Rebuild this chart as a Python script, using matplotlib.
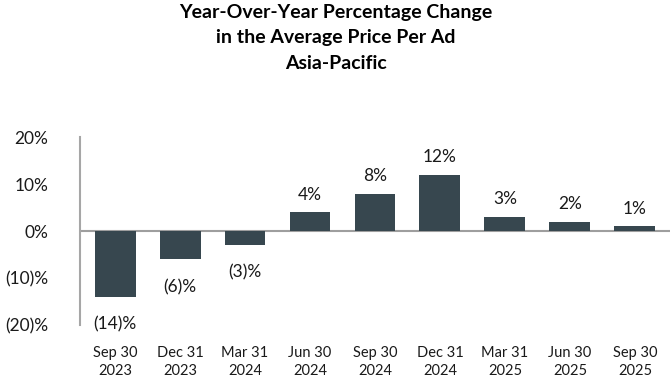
import matplotlib
matplotlib.use('Agg')
import matplotlib.pyplot as plt

# data
quarters = ['Sep 30\n2023', 'Dec 31\n2023', 'Mar 31\n2024', 'Jun 30\n2024', 'Sep 30\n2024',
            'Dec 31\n2024', 'Mar 31\n2025', 'Jun 30\n2025', 'Sep 30\n2025']
changes = [-14, -6, -3, 4, 8, 12, 3, 2, 1]
yticks = [-20, -10, 0, 10, 20]


def pct(v):
    # negatives shown in parentheses
    return '({})%'.format(abs(v)) if v < 0 else '{}%'.format(v)


plt.rcParams['font.family'] = ['Lato', 'DejaVu Sans']

fig = plt.figure(figsize=(6.72, 3.84), dpi=100)
ax = fig.add_axes([0.119, 0.153, 0.878, 0.49])

x = list(range(len(quarters)))
ax.bar(x, changes, width=0.63, color='#37474f', zorder=2)
ax.axhline(0, color='#9e9e9e', lw=1.5, zorder=1)

for xi, v in zip(x, changes):
    if v >= 0:
        ax.annotate(pct(v), (xi, v), xytext=(0, 7), textcoords='offset points',
                    ha='center', va='bottom', fontsize=12.5, color='#1a1a1a')
    else:
        ax.annotate(pct(v), (xi, v), xytext=(0, -14), textcoords='offset points',
                    ha='center', va='top', fontsize=12.5, color='#1a1a1a')

ax.set_xlim(-0.54, len(quarters) - 0.46)
ax.set_ylim(-20, 20)
ax.set_yticks(yticks)
ax.set_yticklabels([pct(v) for v in yticks], fontsize=12.5, color='#1a1a1a')
ax.set_xticks(x)
ax.set_xticklabels(quarters, fontsize=10.5, color='#1a1a1a', linespacing=1.4)
ax.tick_params(length=0)
ax.tick_params(axis='y', pad=23)
ax.tick_params(axis='x', pad=15)

for s in ['top', 'right', 'bottom']:
    ax.spines[s].set_visible(False)
ax.spines['left'].set_color('#a6a6a6')
ax.spines['left'].set_linewidth(1.5)

fig.text(0.5, 0.99, 'Year-Over-Year Percentage Change\nin the Average Price Per Ad\nAsia-Pacific',
         ha='center', va='top', fontsize=14, fontweight='bold', linespacing=1.6)

fig.savefig('out.png', dpi=100)
